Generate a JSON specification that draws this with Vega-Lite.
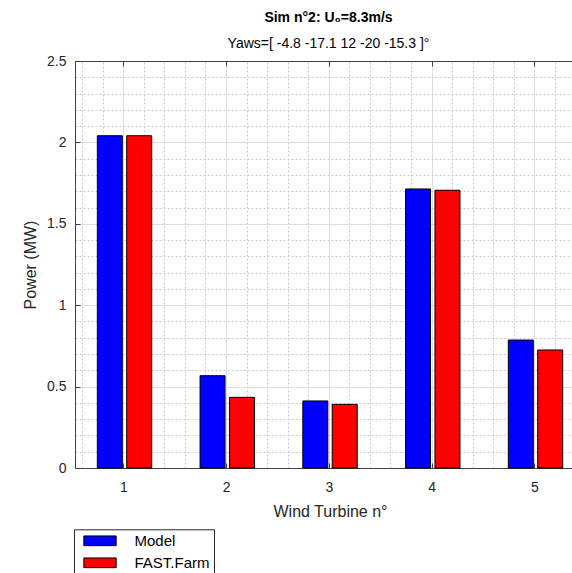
{
  "$schema": "https://vega.github.io/schema/vega-lite/v6.json",
  "width": 497,
  "height": 407,
  "autosize": {"type": "none"},
  "padding": {"left": 75, "top": 61, "right": 0, "bottom": 105},
  "background": "white",
  "config": {"font": "Liberation Sans", "view": {"stroke": null}},
  "title": {
    "text": "Sim n°2: U₀=8.3m/s",
    "subtitle": "Yaws=[ -4.8 -17.1 12 -20 -15.3 ]°",
    "fontSize": 14,
    "fontWeight": "bold",
    "color": "#000000",
    "subtitleFontSize": 14,
    "subtitleColor": "#000000",
    "subtitlePadding": 12,
    "anchor": "middle",
    "frame": "group",
    "offset": 3,
    "dx": 5
  },
  "data": {
    "values": [
      {"turbine": 1, "series": "Model", "power": 2.041},
      {"turbine": 1, "series": "FAST.Farm", "power": 2.041},
      {"turbine": 2, "series": "Model", "power": 0.567},
      {"turbine": 2, "series": "FAST.Farm", "power": 0.434},
      {"turbine": 3, "series": "Model", "power": 0.412},
      {"turbine": 3, "series": "FAST.Farm", "power": 0.391},
      {"turbine": 4, "series": "Model", "power": 1.714},
      {"turbine": 4, "series": "FAST.Farm", "power": 1.706},
      {"turbine": 5, "series": "Model", "power": 0.786},
      {"turbine": 5, "series": "FAST.Farm", "power": 0.725}
    ]
  },
  "layer": [
    {
      "mark": {"type": "bar", "stroke": "#000000", "strokeWidth": 1},
      "encoding": {
        "x": {
          "field": "turbine",
          "type": "ordinal",
          "scale": {"paddingInner": 0.4706, "paddingOuter": 0.1538, "align": 0.706},
          "axis": null
        },
        "xOffset": {
          "field": "series",
          "type": "nominal",
          "sort": ["Model", "FAST.Farm"],
          "scale": {"paddingInner": 0.15, "paddingOuter": 0}
        },
        "y": {
          "field": "power",
          "type": "quantitative",
          "scale": {"domain": [0, 2.5], "nice": false},
          "axis": {
            "title": "Power (MW)",
            "values": [0, 0.1, 0.2, 0.3, 0.4, 0.5, 0.6, 0.7, 0.8, 0.9, 1, 1.1, 1.2, 1.3, 1.4, 1.5, 1.6, 1.7, 1.8, 1.9, 2, 2.1, 2.2, 2.3, 2.4, 2.5],
            "format": "~g",
            "labelExpr": "abs(datum.value*2 - round(datum.value*2)) < 0.000001 ? datum.label : ''",
            "labelFontSize": 14,
            "labelColor": "#262626",
            "labelPadding": 14,
            "grid": true,
            "gridColor": {"condition": {"test": "abs(datum.value*2 - round(datum.value*2)) < 0.000001", "value": "#dedede"}, "value": "#cccccc"},
            "gridDash": {"condition": {"test": "abs(datum.value*2 - round(datum.value*2)) < 0.000001", "value": []}, "value": [2, 2]},
            "tickSize": -5,
            "tickColor": "#404040",
            "tickOpacity": {"condition": {"test": "abs(datum.value*2 - round(datum.value*2)) < 0.000001", "value": 1}, "value": 0},
            "domainColor": "#404040",
            "domainWidth": 1,
            "titleFontSize": 16,
            "titleFontWeight": "normal",
            "titleColor": "#262626",
            "titleX": -45,
            "titleY": 203.5,
            "titleAngle": 270,
            "titleAlign": "center",
            "titleBaseline": "middle"
          }
        },
        "color": {
          "field": "series",
          "type": "nominal",
          "scale": {"domain": ["Model", "FAST.Farm"], "range": ["#0000ff", "#ff0000"]},
          "legend": {
            "orient": "none",
            "legendX": -1,
            "legendY": 468.3,
            "direction": "vertical",
            "title": null,
            "symbolType": "M-3.333,-1L3.333,-1L3.333,1L-3.333,1Z",
            "symbolSize": 94,
            "symbolOffset": 14.5,
            "symbolStrokeColor": "#000000",
            "symbolStrokeWidth": 1,
            "labelFontSize": 15,
            "labelColor": "#000000",
            "labelOffset": 27,
            "rowPadding": 6,
            "padding": 4,
            "strokeColor": "#262626",
            "fillColor": "#ffffff"
          }
        }
      }
    },
    {
      "mark": {"type": "rule", "opacity": 0},
      "encoding": {
        "x": {
          "field": "turbine",
          "type": "quantitative",
          "scale": {"domain": [0.53, 5.367], "nice": false, "zero": false},
          "axis": {
            "orient": "bottom",
            "title": "Wind Turbine n°",
            "values": [0.6, 0.8, 1, 1.2, 1.4, 1.6, 1.8, 2, 2.2, 2.4, 2.6, 2.8, 3, 3.2, 3.4, 3.6, 3.8, 4, 4.2, 4.4, 4.6, 4.8, 5, 5.2],
            "format": "~g",
            "labelExpr": "abs(datum.value - round(datum.value)) < 0.000001 ? datum.label : ''",
            "labelFontSize": 14,
            "labelColor": "#262626",
            "labelPadding": 17,
            "grid": true,
            "gridColor": {"condition": {"test": "abs(datum.value - round(datum.value)) < 0.000001", "value": "#dedede"}, "value": "#cccccc"},
            "gridDash": {"condition": {"test": "abs(datum.value - round(datum.value)) < 0.000001", "value": []}, "value": [2, 2]},
            "tickSize": -5,
            "tickColor": "#404040",
            "tickOpacity": {"condition": {"test": "abs(datum.value - round(datum.value)) < 0.000001", "value": 1}, "value": 0},
            "domainColor": "#404040",
            "domainWidth": 1,
            "titleFontSize": 16,
            "titleFontWeight": "normal",
            "titleColor": "#262626",
            "titleX": 255,
            "titleY": 43,
            "titleAlign": "center",
            "titleBaseline": "middle"
          }
        }
      }
    },
    {
      "mark": {"type": "rule", "opacity": 0},
      "encoding": {
        "x": {
          "field": "turbine",
          "type": "quantitative",
          "scale": {"domain": [0.53, 5.367], "nice": false, "zero": false},
          "axis": {
            "orient": "top",
            "title": null,
            "values": [1, 2, 3, 4, 5],
            "labels": false,
            "grid": false,
            "tickSize": -5,
            "tickColor": "#404040",
            "domainColor": "#404040",
            "domainWidth": 1
          }
        }
      }
    }
  ],
  "resolve": {"scale": {"x": "independent"}, "axis": {"x": "independent"}}
}
